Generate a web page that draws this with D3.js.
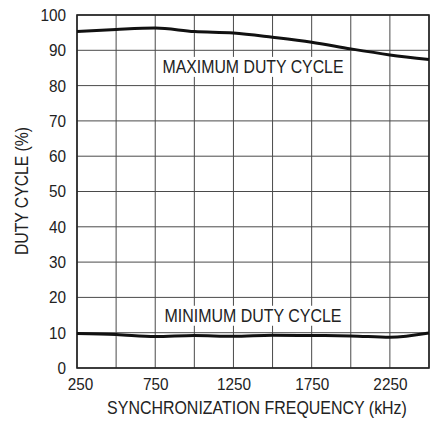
<!DOCTYPE html>
<html><head><meta charset="utf-8">
<script src="https://cdn.jsdelivr.net/npm/d3@7"></script>
<style>body{margin:0;background:#fff}svg{display:block}</style>
</head><body>
<script>
const freq = [250, 500, 750, 1000, 1250, 1500, 1750, 2000, 2250, 2500];
const maxDuty = [95.3, 95.9, 96.3, 95.3, 94.9, 93.7, 92.3, 90.4, 88.7, 87.4];
const minDuty = [9.8, 9.5, 8.9, 9.2, 9.0, 9.3, 9.2, 9.1, 8.7, 9.9];
const xTicks = [250, 750, 1250, 1750, 2250];
const yTicks = [0, 10, 20, 30, 40, 50, 60, 70, 80, 90, 100];
const xGrid = d3.range(250, 2501, 250);
const labels = [{text: "MAXIMUM DUTY CYCLE", f: 1375, v: 83.6, w: 181}, {text: "MINIMUM DUTY CYCLE", f: 1375, v: 13.1, w: 177}];

const FONT = '"Liberation Sans",Arial,sans-serif';
const W = 443, H = 423;
const m = {l: 77, r: 14, t: 15, b: 55};
const svg = d3.select("body").append("svg").attr("width", W).attr("height", H)
  .style("font-family", FONT);
const x = d3.scaleLinear().domain([250, 2500]).range([m.l, W - m.r]);
const y = d3.scaleLinear().domain([0, 100]).range([H - m.b, m.t]);

function condense(sel, ratio) {
  sel.each(function() {
    const w = this.getComputedTextLength();
    d3.select(this).attr("textLength", w * ratio).attr("lengthAdjust", "spacingAndGlyphs");
  });
}

const g = svg.append("g");
g.selectAll(".vg").data(xGrid).join("line")
  .attr("x1", d => x(d)).attr("x2", d => x(d)).attr("y1", y(0)).attr("y2", y(100))
  .attr("stroke", "#4a4a4a").attr("stroke-width", 1);
g.selectAll(".hg").data(yTicks).join("line")
  .attr("y1", d => y(d)).attr("y2", d => y(d)).attr("x1", x(250)).attr("x2", x(2500))
  .attr("stroke", "#4a4a4a").attr("stroke-width", 1);
g.append("rect").attr("x", x(250)).attr("y", y(100)).attr("width", x(2500) - x(250)).attr("height", y(0) - y(100))
  .attr("fill", "none").attr("stroke", "#222").attr("stroke-width", 1.6);

const yAxis = d3.axisLeft(y).tickValues(yTicks).tickSize(0).tickPadding(11).tickFormat(d3.format("d"));
svg.append("g").attr("transform", `translate(${m.l},0)`).call(yAxis)
  .attr("font-family", FONT).attr("font-size", 17)
  .call(a => a.select(".domain").remove())
  .selectAll("text").attr("fill", "#222").call(condense, 0.9);
const xAxis = d3.axisBottom(x).tickValues(xTicks).tickSize(0).tickPadding(10).tickFormat(d3.format("d"));
svg.append("g").attr("transform", `translate(0,${H - m.b})`).call(xAxis)
  .attr("font-family", FONT).attr("font-size", 17)
  .call(a => a.select(".domain").remove())
  .selectAll("text").attr("fill", "#222").attr("dx", d => d === 250 ? 3 : 0).call(condense, 0.9);

// labels with white background
labels.forEach(l => {
  const t = svg.append("text").attr("x", x(l.f)).attr("y", y(l.v)).attr("text-anchor", "middle")
    .attr("font-size", 18).attr("fill", "#222").text(l.text)
    .attr("textLength", l.w).attr("lengthAdjust", "spacingAndGlyphs");
  const bb = t.node().getBBox();
  svg.insert("rect", () => t.node()).attr("x", bb.x - 3).attr("y", bb.y).attr("width", bb.width + 6).attr("height", bb.height).attr("fill", "#fff");
});

const line = d3.line().x((d, i) => x(freq[i])).y(d => y(d)).curve(d3.curveMonotoneX);
[maxDuty, minDuty].forEach(s => {
  svg.append("path").datum(s).attr("d", line).attr("fill", "none").attr("stroke", "#111").attr("stroke-width", 3);
});

svg.append("text").attr("transform", `translate(27.7,191) rotate(-90)`)
  .attr("text-anchor", "middle").attr("font-size", 17.6).attr("fill", "#222").text("DUTY CYCLE (%)")
  .attr("textLength", 128).attr("lengthAdjust", "spacingAndGlyphs");
const xt = svg.append("text").attr("text-anchor", "middle")
  .attr("font-size", 18.5).attr("fill", "#222").text("SYNCHRONIZATION FREQUENCY (kHz)");
const natW = xt.node().getComputedTextLength();
xt.attr("transform", `translate(257,414) scale(${300 / natW},1)`);
</script>
</body></html>
